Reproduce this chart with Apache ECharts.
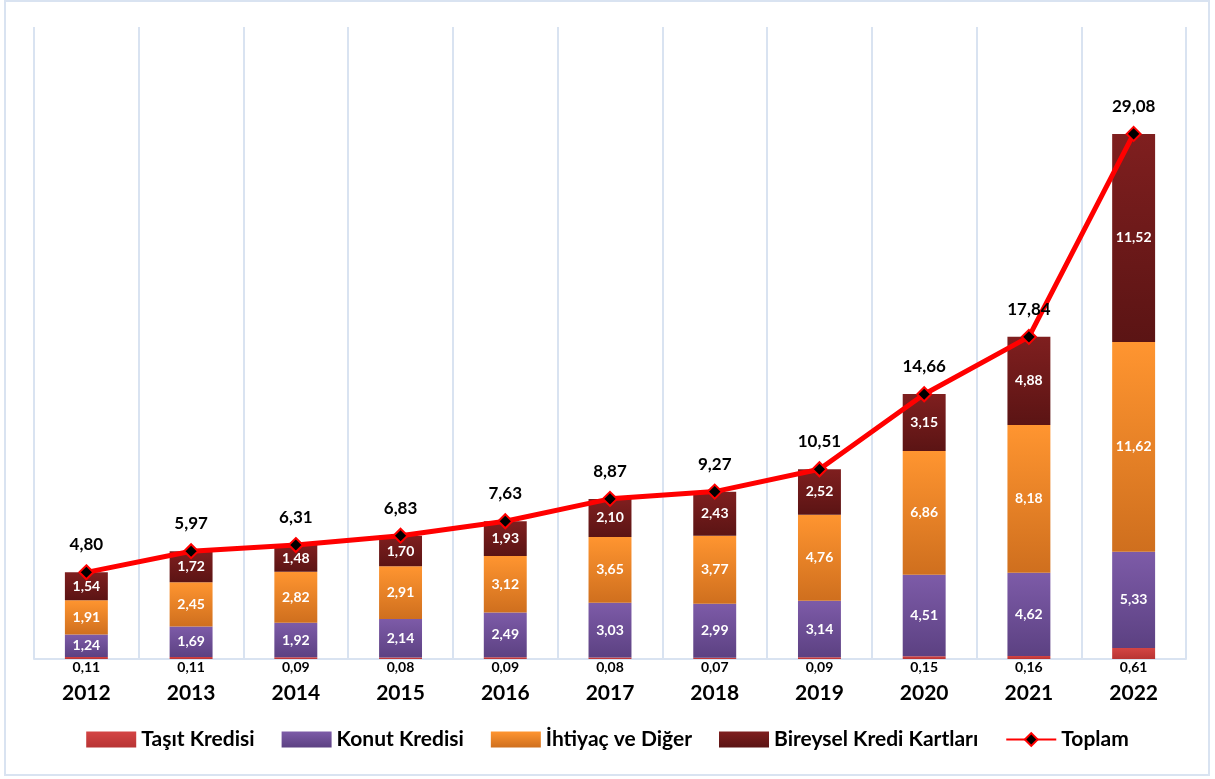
<!DOCTYPE html>
<html>
<head>
<meta charset="utf-8">
<title>Bireysel Krediler</title>
<script src="https://cdn.jsdelivr.net/npm/echarts@6/dist/echarts.min.js"></script>
<style>
  html, body { margin: 0; padding: 0; background: #fff; }
  #main { width: 1215px; height: 779px; }
</style>
</head>
<body>
<div id="main"></div>
<script type="text/javascript">
var years = ['2012', '2013', '2014', '2015', '2016', '2017', '2018', '2019', '2020', '2021', '2022'];
var tasit = [0.11, 0.11, 0.09, 0.08, 0.09, 0.08, 0.07, 0.09, 0.15, 0.16, 0.61];
var konut = [1.24, 1.69, 1.92, 2.14, 2.49, 3.03, 2.99, 3.14, 4.51, 4.62, 5.33];
var ihtiyac = [1.91, 2.45, 2.82, 2.91, 3.12, 3.65, 3.77, 4.76, 6.86, 8.18, 11.62];
var kart = [1.54, 1.72, 1.48, 1.70, 1.93, 2.10, 2.43, 2.52, 3.15, 4.88, 11.52];
var toplam = [4.80, 5.97, 6.31, 6.83, 7.63, 8.87, 9.27, 10.51, 14.66, 17.84, 29.08];

var FONT = 'Lato';
var myChart = echarts.init(document.getElementById('main'));

function grad(top, bottom) {
    return new echarts.graphic.LinearGradient(0, 0, 0, 1, [
        { offset: 0, color: top },
        { offset: 1, color: bottom }
    ]);
}
function fmt(v) {
    return v.toFixed(2).replace('.', ',');
}
function inLabel() {
    return {
        show: true,
        position: 'inside',
        color: '#fff',
        fontFamily: FONT,
        fontWeight: 'bold',
        fontSize: 14,
        formatter: function (p) { return fmt(p.value); }
    };
}

var option = {
    animation: false,
    graphic: [{
        type: 'rect',
        shape: { x: 5, y: 1, width: 1204, height: 774 },
        style: { fill: 'none', stroke: '#d9e3f1', lineWidth: 2 },
        silent: true
    }],
    grid: { left: 34, right: 29, top: 27, bottom: 120 },
    legend: {
        bottom: 24,
        itemWidth: 50,
        itemHeight: 16,
        itemGap: 27,
        textStyle: { fontFamily: FONT, fontWeight: 'bold', fontSize: 21, color: '#000' },
        data: [
            { name: 'Taşıt Kredisi', icon: 'rect' },
            { name: 'Konut Kredisi', icon: 'rect' },
            { name: 'İhtiyaç ve Diğer', icon: 'rect' },
            { name: 'Bireysel Kredi Kartları', icon: 'rect' },
            'Toplam'
        ]
    },
    xAxis: {
        type: 'category',
        data: years,
        axisLine: { lineStyle: { color: '#d9e3f1', width: 2 } },
        axisTick: { show: false },
        splitLine: { show: true, lineStyle: { color: '#d9e3f1', width: 2 } },
        axisLabel: {
            margin: 24,
            color: '#000',
            fontFamily: FONT,
            fontWeight: 'bold',
            fontSize: 21
        }
    },
    yAxis: {
        type: 'value',
        min: 0,
        max: 35,
        show: false,
        splitLine: { show: false }
    },
    series: [
        {
            name: 'Taşıt Kredisi',
            type: 'bar',
            stack: 'k',
            barWidth: '41%',
            data: tasit,
            itemStyle: { color: grad('#d44444', '#b83434') },
            label: {
                show: true,
                position: 'bottom',
                distance: 1,
                color: '#000',
                fontFamily: FONT,
                fontWeight: 'bold',
                fontSize: 14,
                formatter: function (p) { return fmt(p.value); }
            }
        },
        {
            name: 'Konut Kredisi',
            type: 'bar',
            stack: 'k',
            data: konut,
            itemStyle: { color: grad('#7d5ba8', '#5c4182') },
            label: inLabel()
        },
        {
            name: 'İhtiyaç ve Diğer',
            type: 'bar',
            stack: 'k',
            data: ihtiyac,
            itemStyle: { color: grad('#ff9530', '#cf6f1e') },
            label: inLabel()
        },
        {
            name: 'Bireysel Kredi Kartları',
            type: 'bar',
            stack: 'k',
            data: kart,
            itemStyle: { color: grad('#7f1f1f', '#5b1414') },
            label: inLabel()
        },
        {
            name: 'Toplam',
            type: 'line',
            data: toplam,
            z: 5,
            symbol: 'diamond',
            symbolSize: 14,
            lineStyle: { color: '#ff0000', width: 5 },
            itemStyle: { color: '#000', borderColor: '#ff0000', borderWidth: 2 },
            label: {
                show: true,
                position: 'top',
                distance: 11,
                color: '#000',
                fontFamily: FONT,
                fontWeight: 'bold',
                fontSize: 17,
                formatter: function (p) { return fmt(p.value); }
            }
        }
    ]
};

myChart.setOption(option);
</script>
</body>
</html>
